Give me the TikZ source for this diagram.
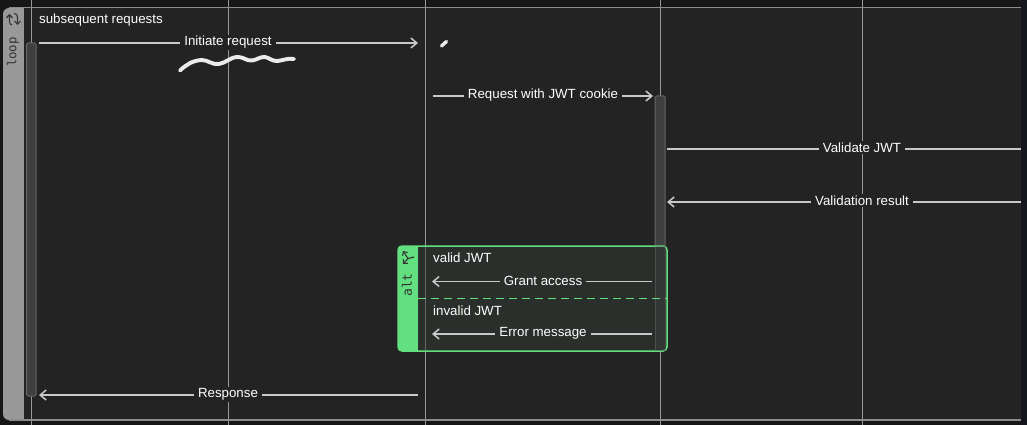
\documentclass[tikz,border=0pt]{standalone}
\usepackage{fontspec}
\setmainfont{Liberation Sans}
\setmonofont{DejaVu Sans Mono}
\usetikzlibrary{arrows.meta}
\definecolor{panelbg}{HTML}{232323}
\definecolor{pagebg}{HTML}{171717}
\definecolor{sidebg}{HTML}{14161C}
\definecolor{framegrey}{HTML}{8C8C8C}
\definecolor{tabgrey}{HTML}{999999}
\definecolor{msggrey}{HTML}{C8C8C8}
\definecolor{altgreen}{HTML}{62E07F}
\definecolor{altbg}{HTML}{2A2F2B}
\definecolor{activebg}{HTML}{3F3F3F}
\definecolor{activeline}{HTML}{666666}
\tikzset{
  lifeline/.style={draw=framegrey!90!white,line width=1pt},
  message/.style={draw=msggrey,line width=1.5pt},
  msgtip/.style={message,-{Straight Barb[length=6pt,width=10pt]}},
  msglabel/.style={fill=panelbg,text=white,font=\fontsize{13.3}{15}\selectfont,inner sep=1.5pt,inner xsep=4pt},
  altlabel/.style={msglabel,fill=altbg},
  framelabel/.style={text=white,font=\fontsize{13.3}{15}\selectfont,inner sep=0pt,anchor=base west},
  activation/.style={fill=activebg,draw=activeline,line width=1pt,rounded corners=1.5pt},
  scribble/.style={draw=white!92!black,line cap=round,line join=round},
  tabtext/.style={font=\ttfamily\fontsize{12.4}{13}\selectfont,rotate=90,inner sep=0pt,text=black!80},
  tabicon/.style={draw=black!80,line width=1.1pt,-{Straight Barb[length=3pt,width=6pt]}}
}
\begin{document}
\begin{tikzpicture}[x=1pt,y=-1pt]
\useasboundingbox (0,0) rectangle (1027,425);
\fill [sidebg] (0,0) rectangle (1027,425);
\fill [pagebg] (0,0) rectangle (1021,425);
\fill [panelbg] (24,7) rectangle (1021,420);

% lifelines
\foreach \m/\x in {a/31,b/228,c/425,d/660,e/862}
  \draw [lifeline] (\x,0) -- (\x,425);

% loop frame
\fill [tabgrey,rounded corners=6pt] (3,8) -- (30,8) -- (30,420) -- (3,420) -- cycle;
\fill [panelbg] (24,8) rectangle (31,420);
\draw [lifeline] (31,8) -- (31,420);
\draw [framegrey,line width=1.3pt] (9,7.5) -- (1021,7.5);
\draw [framegrey,line width=1.8pt] (9,420) -- (1021,420);
\node [tabtext] (loop-tag) at (13,52) {loop};
\draw [tabicon] (12,25) .. controls (10,25) and (9.5,23) .. (9.5,21) -- (9.5,14);
\draw [tabicon] (14,13.5) .. controls (16.5,13.5) and (17.5,15) .. (17.5,17) -- (17.5,25);
\node [framelabel] (loop-label) at (39,24) {subsequent requests};

% activations
\draw [activation] (26.5,43) rectangle (36,396);
\draw [activation] (655,96) rectangle (665,350);

% alt frame
\fill [altbg,rounded corners=4pt] (398,246) rectangle (667,351);
\fill [altgreen,rounded corners=4pt] (398,246) -- (418,246) -- (418,351) -- (398,351) -- cycle;
\fill [altgreen] (410,246) rectangle (418,351);
\draw [altgreen,line width=1.5pt,rounded corners=4pt] (398,246) rectangle (667,351);
\draw [black!80,line width=.8pt] (418.5,246.7) -- (418.5,350.3);
\draw [lifeline,opacity=.55] (425,246.7) -- (425,350.3);
\draw [activation,opacity=.5,rounded corners=0pt] (655,246.8) rectangle (665,350.2);
\draw [altgreen,line width=1.2pt,dash pattern=on 8pt off 5pt] (418,298.5) -- (667,298.5);
\node [tabtext,font=\ttfamily\fontsize{13}{14}\selectfont] (alt-tag) at (407,285) {alt};
\draw [tabicon] (414,257) -- (408,258.5) -- (403,251);
\draw [tabicon] (408,258.5) -- (403,264);
\node [framelabel] (alt-valid) at (433,262) {valid JWT};
\node [framelabel] (alt-invalid) at (433,315) {invalid JWT};

% message end points
\coordinate (init-from) at (39,43);
\coordinate (init-to) at (418,43);
\coordinate (req-from) at (433,96);
\coordinate (req-to) at (653,96);
\coordinate (val-from) at (667,149);
\coordinate (val-to) at (1021,149);
\coordinate (res-from) at (1021,202);
\coordinate (res-to) at (667,202);
\coordinate (grant-from) at (652,281.5);
\coordinate (grant-to) at (432,281.5);
\coordinate (err-from) at (652,334);
\coordinate (err-to) at (432,334);
\coordinate (resp-from) at (418,395);
\coordinate (resp-to) at (39,395);

% messages
\foreach \m/\s in {init/msgtip,req/msgtip,val/message,res/msgtip,resp/msgtip}
  \draw [\s] (\m-from) -- (\m-to);
\foreach \m in {grant,err}
  \draw [msgtip] (\m-from) -- (\m-to);

\node [msglabel] (init-label) at (228,42.5) {Initiate request};
\node [msglabel] (req-label) at (543,95.5) {Request with JWT cookie};
\node [msglabel] (val-label) at (862,147.5) {Validate JWT};
\node [msglabel] (res-label) at (862,200.5) {Validation result};
\node [altlabel] (grant-label) at (543,280.5) {Grant access};
\node [altlabel] (err-label) at (543,333) {Error message};
\node [msglabel] (resp-label) at (228,394.5) {Response};

% scribbles
\draw [scribble,line width=3.9pt] (180,70.5) .. controls (186,65) and (192,60.5) .. (202,60)
  .. controls (208,60) and (212,65) .. (219,64) .. controls (226,63) and (230,57) .. (238,57)
  .. controls (244,57) and (246,61) .. (252,60.5) .. controls (257,60) and (260,56.5) .. (265,57)
  .. controls (270,58) and (272,61.5) .. (278,61) .. controls (284,60) and (288,58) .. (294,59);
\draw [scribble,line width=3.4pt] (441.5,46) -- (446.5,41.5);
\end{tikzpicture}
\end{document}
